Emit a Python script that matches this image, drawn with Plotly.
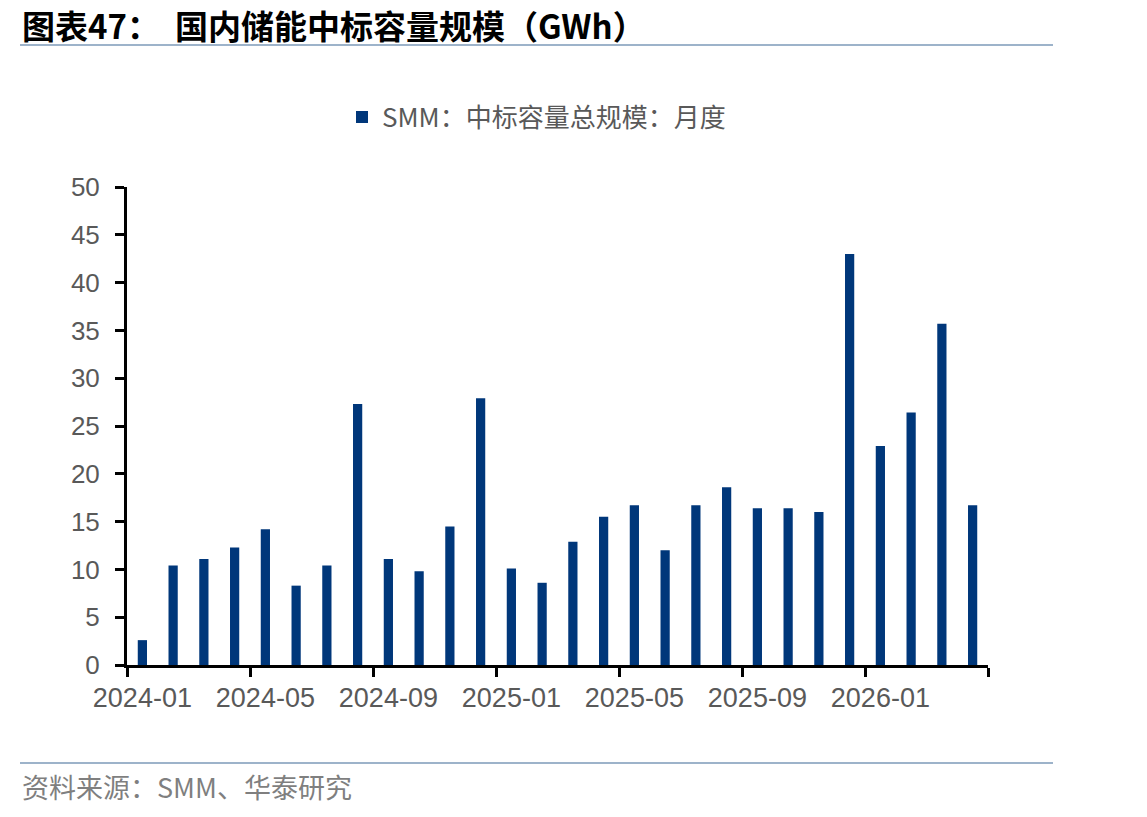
import plotly.graph_objects as go

months = ["2024-01","2024-02","2024-03","2024-04","2024-05","2024-06","2024-07","2024-08",
          "2024-09","2024-10","2024-11","2024-12","2025-01","2025-02","2025-03","2025-04",
          "2025-05","2025-06","2025-07","2025-08","2025-09","2025-10","2025-11","2025-12",
          "2026-01","2026-02","2026-03","2026-04"]
values = [2.6, 10.4, 11.1, 12.3, 14.2, 8.3, 10.4, 27.3,
          11.1, 9.8, 14.5, 27.9, 10.1, 8.6, 12.9, 15.5,
          16.7, 12.0, 16.7, 18.6, 16.4, 16.4, 16.0, 43.0,
          22.9, 26.4, 35.7, 16.7]
tick_labels = ["2024-01","2024-05","2024-09","2025-01","2025-05","2025-09","2026-01"]
series_name = "SMM：中标容量总规模：月度"
title_text = "图表47：  国内储能中标容量规模（GWh）"
source_text = "资料来源：SMM、华泰研究"

W, H = 1147, 817
L, R, T, B = 127, 159, 187, 152
pw, ph = W - L - R, H - T - B

def px(x):
    return (x - L) / pw

def py(y):
    return (H - B - y) / ph

idx = list(range(len(months)))
tickpos = [i for i, m in enumerate(months) if m in tick_labels]

fig = go.Figure()
fig.add_trace(go.Bar(
    x=idx, y=values, name=series_name, width=0.3,
    marker=dict(color="#00377A", line=dict(width=0)),
    hovertext=months,
))

fig.update_layout(
    width=W, height=H,
    margin=dict(l=L, r=R, t=T, b=B),
    plot_bgcolor="white", paper_bgcolor="white",
    showlegend=True,
    legend=dict(orientation="h", x=px(342), xanchor="left", y=py(117), yanchor="middle",
                font=dict(family="Noto Sans CJK SC", size=26, color="#595959"),
                bgcolor="rgba(0,0,0,0)"),
    xaxis=dict(
        range=[-0.5, len(months) - 0.5],
        tickmode="array", tickvals=tickpos, ticktext=tick_labels,
        ticks="", showgrid=False, zeroline=False,
        showline=True, linecolor="black", linewidth=3,
        tickfont=dict(family="Liberation Sans", size=27, color="#595959"),
        ticklabelstandoff=7,
        minor=dict(tickmode="array",
                   tickvals=[i - 0.5 for i in range(0, len(months) + 1, 4)],
                   ticks="outside", ticklen=9, tickwidth=3, tickcolor="black",
                   showgrid=False),
    ),
    yaxis=dict(
        range=[0, 50], dtick=5, tick0=0,
        ticks="outside", ticklen=9, tickwidth=3, tickcolor="black",
        showgrid=False, zeroline=False,
        showline=True, linecolor="black", linewidth=3,
        tickfont=dict(family="Liberation Sans", size=26, color="#595959"),
        ticklabelstandoff=10,
    ),
)

fig.add_annotation(text="<b>" + title_text + "</b>", xref="paper", yref="paper",
                   x=px(20), y=py(25), xanchor="left", yanchor="middle", showarrow=False,
                   font=dict(family="Noto Sans CJK SC", size=33, color="black"))
fig.add_annotation(text=source_text, xref="paper", yref="paper",
                   x=px(20), y=py(786), xanchor="left", yanchor="middle", showarrow=False,
                   font=dict(family="Noto Sans CJK SC", size=27, color="#7F7F7F"))

line_color = "#9DB3CA"
for yy in (45, 763):
    fig.add_shape(type="line", xref="paper", yref="paper",
                  x0=px(20), x1=px(1053), y0=py(yy), y1=py(yy),
                  line=dict(color=line_color, width=2))

fig.write_html("out.html")
